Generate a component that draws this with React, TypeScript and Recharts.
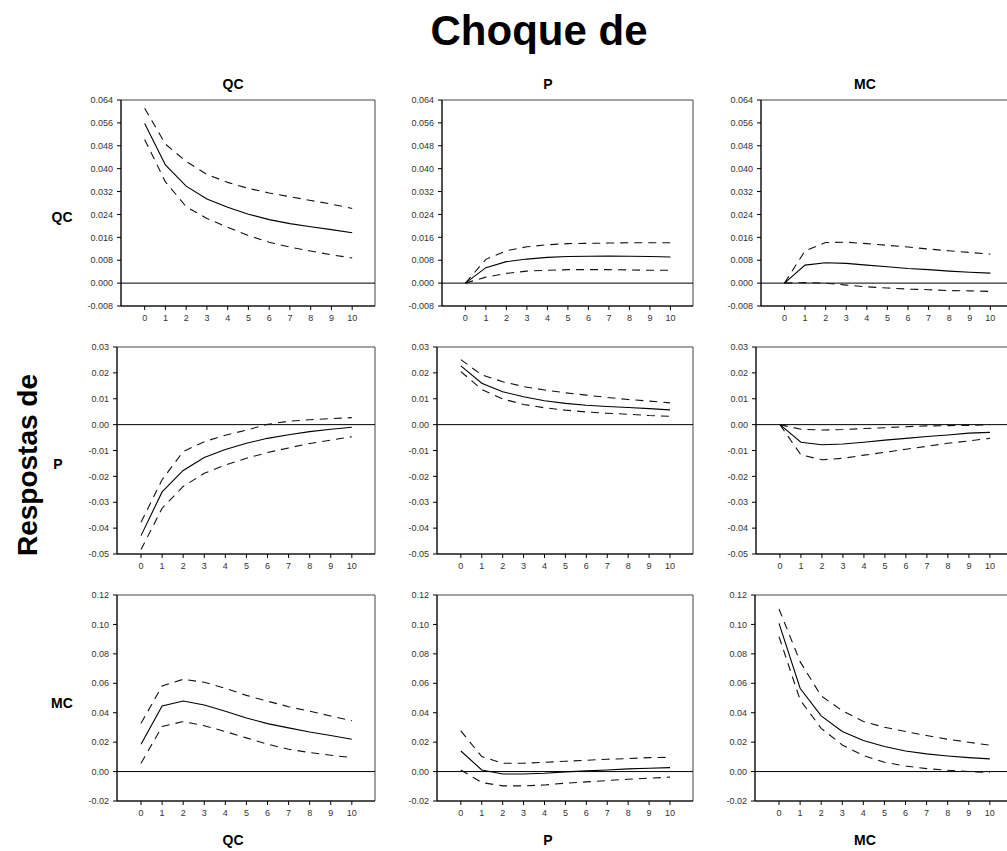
import { LineChart, Line, XAxis, YAxis, ReferenceLine, ReferenceArea } from 'recharts'

const periods = [0, 1, 2, 3, 4, 5, 6, 7, 8, 9, 10]

// row 1: respostas de QC
const qcQcMid = [0.0558, 0.0413, 0.0339, 0.0294, 0.0265, 0.0241, 0.0222, 0.0208, 0.0197, 0.0187, 0.0176]
const qcQcUp = [0.0611, 0.0486, 0.0425, 0.038, 0.0352, 0.0331, 0.0315, 0.0302, 0.0289, 0.0276, 0.0261]
const qcQcLo = [0.0502, 0.0354, 0.0267, 0.0226, 0.0195, 0.0166, 0.0143, 0.0126, 0.0112, 0.0099, 0.0088]

const qcPMid = [0, 0.0054, 0.0075, 0.0084, 0.009, 0.0093, 0.0094, 0.0095, 0.0094, 0.0093, 0.0091]
const qcPUp = [0, 0.0083, 0.0113, 0.0127, 0.0134, 0.0138, 0.0139, 0.014, 0.0141, 0.0141, 0.0141]
const qcPLo = [0, 0.0021, 0.0034, 0.0042, 0.0045, 0.0047, 0.0047, 0.0047, 0.0046, 0.0045, 0.0045]

const qcMcMid = [0, 0.0063, 0.0071, 0.0069, 0.0063, 0.0057, 0.0051, 0.0047, 0.0042, 0.0038, 0.0035]
const qcMcUp = [0, 0.0113, 0.0142, 0.0143, 0.0138, 0.0132, 0.0126, 0.0119, 0.0113, 0.0107, 0.0101]
const qcMcLo = [0, 0.0002, 0.0, -0.0007, -0.0013, -0.0017, -0.0021, -0.0023, -0.0026, -0.0027, -0.0029]

// row 2: respostas de P
const pQcMid = [-0.0429, -0.026, -0.0177, -0.0127, -0.0096, -0.0072, -0.0053, -0.0039, -0.0027, -0.0018, -0.001]
const pQcUp = [-0.0377, -0.0213, -0.0104, -0.0066, -0.0041, -0.0021, 0.0001, 0.0013, 0.0019, 0.0023, 0.0027]
const pQcLo = [-0.0483, -0.0323, -0.0239, -0.0188, -0.0156, -0.013, -0.0108, -0.009, -0.0073, -0.006, -0.0047]

const pPMid = [0.0227, 0.016, 0.0127, 0.0108, 0.0092, 0.0082, 0.0075, 0.007, 0.0066, 0.0062, 0.0057]
const pPUp = [0.0251, 0.0192, 0.0166, 0.0147, 0.0134, 0.0123, 0.0114, 0.0105, 0.0097, 0.0091, 0.0084]
const pPLo = [0.0205, 0.0136, 0.0099, 0.0078, 0.0065, 0.0056, 0.0049, 0.0044, 0.004, 0.0035, 0.0032]

const pMcMid = [0, -0.0068, -0.0078, -0.0075, -0.0068, -0.006, -0.0053, -0.0046, -0.004, -0.0033, -0.003]
const pMcUp = [0, -0.0018, -0.0021, -0.0019, -0.0015, -0.0012, -0.0008, -0.0005, -0.0004, -0.0003, -0.0001]
const pMcLo = [0, -0.0117, -0.0136, -0.013, -0.0118, -0.0107, -0.0095, -0.0084, -0.0072, -0.0063, -0.0053]

// row 3: respostas de MC
const mcQcMid = [0.0186, 0.0446, 0.048, 0.0453, 0.041, 0.0364, 0.0326, 0.0297, 0.0269, 0.0245, 0.022]
const mcQcUp = [0.0328, 0.0582, 0.0627, 0.0607, 0.0566, 0.0518, 0.0478, 0.0441, 0.041, 0.0378, 0.0346]
const mcQcLo = [0.0057, 0.0306, 0.034, 0.0312, 0.0272, 0.0229, 0.0186, 0.0152, 0.0129, 0.0111, 0.0095]

const mcPMid = [0.014, 0.0011, -0.0016, -0.0016, -0.0011, -0.0002, 0.0005, 0.0011, 0.0018, 0.0023, 0.0027]
const mcPUp = [0.0276, 0.0102, 0.0057, 0.0057, 0.0063, 0.007, 0.0077, 0.0084, 0.0088, 0.0095, 0.0097]
const mcPLo = [0.0011, -0.0075, -0.0097, -0.0097, -0.0091, -0.0079, -0.007, -0.0061, -0.0052, -0.0045, -0.0038]

const mcMcMid = [0.1007, 0.0566, 0.0378, 0.0272, 0.0211, 0.017, 0.014, 0.012, 0.0106, 0.0095, 0.0086]
const mcMcUp = [0.1105, 0.0747, 0.0514, 0.0414, 0.034, 0.0301, 0.0272, 0.0245, 0.022, 0.0199, 0.0179]
const mcMcLo = [0.0917, 0.0487, 0.0294, 0.0181, 0.0109, 0.0063, 0.0038, 0.002, 0.0009, 0.0, -0.0007]

const row1Ticks = [-0.008, 0, 0.008, 0.016, 0.024, 0.032, 0.04, 0.048, 0.056, 0.064]
const row2Ticks = [-0.05, -0.04, -0.03, -0.02, -0.01, 0, 0.01, 0.02, 0.03]
const row3Ticks = [-0.02, 0, 0.02, 0.04, 0.06, 0.08, 0.1, 0.12]

const X_DOMAIN: [number, number] = [-1.14, 11.1]
const FONT = '"Liberation Sans", Arial, Helvetica, sans-serif'

interface PanelProps {
  left: number
  top: number
  right: number
  bottom: number
  mid: number[]
  up: number[]
  lo: number[]
  yTicks: number[]
  digits: number
}

function Panel({ left, top, right, bottom, mid, up, lo, yTicks, digits }: PanelProps) {
  const data = periods.map((t, i) => ({ t, mid: mid[i], up: up[i], lo: lo[i] }))
  const yAxisW = 60
  const pw = right - left
  const ph = bottom - top
  const yMin = yTicks[0]
  const yMax = yTicks[yTicks.length - 1]
  const tickStyle = { fontSize: 9, fill: '#333', fontFamily: FONT }

  return (
    <div style={{ position: 'absolute', left: left - yAxisW, top: top - 10 }}>
      <LineChart
        width={yAxisW + pw + 10}
        height={10 + ph + 30}
        data={data}
        margin={{ top: 10, right: 10, bottom: 0, left: 0 }}
      >
        <XAxis
          dataKey="t"
          type="number"
          domain={X_DOMAIN}
          ticks={periods}
          interval={0}
          allowDataOverflow
          height={30}
          tickSize={4}
          tickMargin={5}
          tick={tickStyle}
          axisLine={{ stroke: '#000' }}
          tickLine={{ stroke: '#000' }}
        />
        <YAxis
          type="number"
          domain={[yMin, yMax]}
          ticks={yTicks}
          interval={0}
          allowDataOverflow
          width={yAxisW}
          tickSize={4}
          tickMargin={4}
          tick={tickStyle}
          axisLine={{ stroke: '#000' }}
          tickLine={{ stroke: '#000' }}
          tickFormatter={(v: number) => v.toFixed(digits)}
        />
        <ReferenceArea x1={X_DOMAIN[0]} x2={X_DOMAIN[1]} y1={yMin} y2={yMax} fill="none" stroke="#444" strokeWidth={1} />
        <ReferenceLine y={0} stroke="#000" strokeWidth={1} />
        <Line type="linear" dataKey="up" stroke="#111" strokeWidth={1.1} strokeDasharray="8 6" dot={false} isAnimationActive={false} />
        <Line type="linear" dataKey="lo" stroke="#111" strokeWidth={1.1} strokeDasharray="8 6" dot={false} isAnimationActive={false} />
        <Line type="linear" dataKey="mid" stroke="#000" strokeWidth={1.1} dot={false} isAnimationActive={false} />
      </LineChart>
    </div>
  )
}

export default function App() {
  return (
    <div
      style={{
        position: 'fixed',
        left: 0,
        top: 0,
        width: 1007,
        height: 851,
        overflow: 'hidden',
        background: '#fff',
        fontFamily: FONT,
      }}
    >
      <svg width={1007} height={851} style={{ position: 'absolute', left: 0, top: 0 }} fontFamily={FONT} fontWeight="bold">
        <text x={539} y={45} fontSize={42} textAnchor="middle">Choque de</text>
        <text x={233} y={89} fontSize={14} textAnchor="middle">QC</text>
        <text x={548} y={89} fontSize={14} textAnchor="middle">P</text>
        <text x={865} y={89} fontSize={14} textAnchor="middle">MC</text>
        <text x={233} y={845} fontSize={14} textAnchor="middle">QC</text>
        <text x={548} y={845} fontSize={14} textAnchor="middle">P</text>
        <text x={865} y={845} fontSize={14} textAnchor="middle">MC</text>
        <text x={62} y={222} fontSize={14} textAnchor="middle">QC</text>
        <text x={58} y={469} fontSize={14} textAnchor="middle">P</text>
        <text x={62} y={708} fontSize={14} textAnchor="middle">MC</text>
        <text x={30} y={465} fontSize={28} textAnchor="middle" dominantBaseline="middle" transform="rotate(-90 30 465)">
          Respostas de
        </text>
      </svg>

      <Panel left={121} top={100} right={375} bottom={306} mid={qcQcMid} up={qcQcUp} lo={qcQcLo} yTicks={row1Ticks} digits={3} />
      <Panel left={442} top={100} right={693} bottom={306} mid={qcPMid} up={qcPUp} lo={qcPLo} yTicks={row1Ticks} digits={3} />
      <Panel left={761} top={100} right={1013} bottom={306} mid={qcMcMid} up={qcMcUp} lo={qcMcLo} yTicks={row1Ticks} digits={3} />

      <Panel left={117} top={347} right={375} bottom={554} mid={pQcMid} up={pQcUp} lo={pQcLo} yTicks={row2Ticks} digits={2} />
      <Panel left={437} top={347} right={693} bottom={554} mid={pPMid} up={pPUp} lo={pPLo} yTicks={row2Ticks} digits={2} />
      <Panel left={756} top={347} right={1013} bottom={554} mid={pMcMid} up={pMcUp} lo={pMcLo} yTicks={row2Ticks} digits={2} />

      <Panel left={117} top={595} right={375} bottom={801} mid={mcQcMid} up={mcQcUp} lo={mcQcLo} yTicks={row3Ticks} digits={2} />
      <Panel left={437} top={595} right={693} bottom={801} mid={mcPMid} up={mcPUp} lo={mcPLo} yTicks={row3Ticks} digits={2} />
      <Panel left={755} top={595} right={1013} bottom={801} mid={mcMcMid} up={mcMcUp} lo={mcMcLo} yTicks={row3Ticks} digits={2} />
    </div>
  )
}
